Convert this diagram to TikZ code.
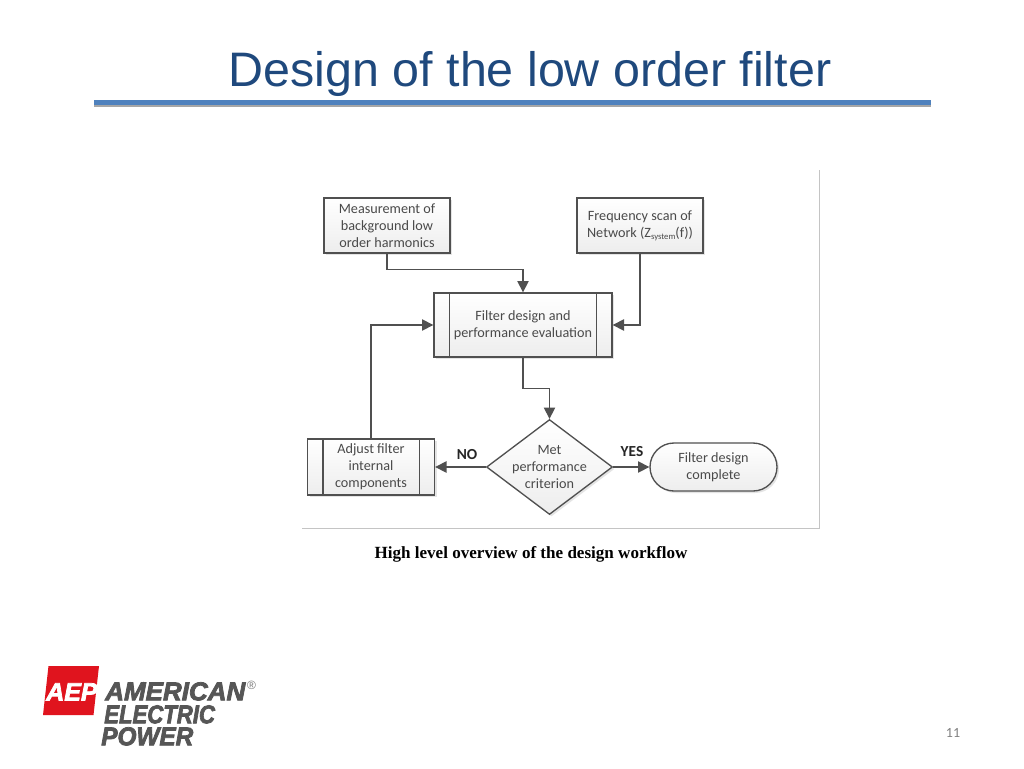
\documentclass[tikz,border=0pt]{standalone}
\usepackage{fontspec}
\usepackage{graphicx}
\usetikzlibrary{shapes.geometric,shapes.misc,shadows,arrows.meta}
\setmainfont{Liberation Sans}
\newfontfamily\flowfont{Carlito}
\newfontfamily\capfont{Liberation Serif}
\newfontfamily\logofont{Liberation Sans}[FakeBold=3]
\definecolor{titleblue}{HTML}{1F497D}
\definecolor{ruleblue}{HTML}{4F81BD}
\definecolor{flowline}{HTML}{505050}
\definecolor{flowtext}{HTML}{4A4A4A}
\definecolor{framegray}{HTML}{C4C4C4}
\definecolor{logored}{HTML}{E0141E}
\definecolor{logogray}{HTML}{565656}
\def\pxu{0.75pt}
\tikzset{
  flowshape/.style={draw=flowline, line width=1pt, top color=white, bottom color=black!7,
    text=flowtext, align=center, inner sep=0pt, font=\flowfont\fontsize{10.65pt}{12.8pt}\selectfont,
    drop shadow={shadow xshift=1.5pt, shadow yshift=-1.5pt, fill=black!35, opacity=0.3}},
  procbox/.style={flowshape, rectangle, minimum width=#1*\pxu},
  flowarrow/.style={draw=flowline, line width=1pt, -{Triangle[length=8.5pt,width=8.5pt]}},
  innerline/.style={draw=flowline, line width=1pt},
  framerule/.style={draw=framegray, line width=0.7pt},
  decision/.style={font=\flowfont\bfseries\fontsize{11.5pt}{13pt}\selectfont, text=black!85, inner sep=0pt},
  logotext/.style={inner sep=0pt, anchor=north west, text=logogray, font=\logofont\bfseries\itshape}
}
\begin{document}
\begin{tikzpicture}[x=0.75pt,y=-0.75pt]
\useasboundingbox (0,0) rectangle (1024,768);
\fill[white] (0,0) rectangle (1024,768);
% title
\node[inner sep=0pt, text=titleblue, font=\fontsize{36.3pt}{40pt}\selectfont] (title) at (530,74) {Design of the low order filter};
\fill[black!35] (94,102) rectangle (931,107);
\fill[ruleblue] (94,100) rectangle (931,105);
% picture frame
\coordinate (fr1) at (819,170);
\coordinate (fr2) at (819,528);
\coordinate (fr3) at (302,528);
\draw[framerule] (fr1) -- (fr2) -- (fr3);
% nodes
\node[procbox=126, minimum height=55*\pxu] (meas) at (387,225.5) {Measurement of\\background low\\order harmonics};
\node[procbox=126, minimum height=55*\pxu] (freq) at (640,225.5) {Frequency scan of\\Network (Z{\fontsize{6.5pt}{7pt}\selectfont\smash{\raisebox{-1.5pt}{system}}}(f))};
\node[procbox=178, minimum height=64*\pxu] (filt) at (523,325) {Filter design and\\performance evaluation};
\node[procbox=127, minimum height=56*\pxu] (adj) at (371,467) {Adjust filter\\internal\\components};
\node[flowshape, diamond, shape aspect=1.32, inner sep=-1.6pt, minimum width=126*\pxu, minimum height=95*\pxu] (dia) at (549.5,467) {Met\\performance\\criterion};
\node[flowshape, rounded rectangle, minimum width=127*\pxu, minimum height=48*\pxu] (done) at (713.5,467) {Filter design\\complete};
% subprocess bars
\draw[innerline] ([xshift=16*\pxu]filt.north west) -- ([xshift=16*\pxu]filt.south west);
\draw[innerline] ([xshift=-16*\pxu]filt.north east) -- ([xshift=-16*\pxu]filt.south east);
\draw[innerline] ([xshift=16*\pxu]adj.north west) -- ([xshift=16*\pxu]adj.south west);
\draw[innerline] ([xshift=-16*\pxu]adj.north east) -- ([xshift=-16*\pxu]adj.south east);
% connectors
\draw[flowarrow] (meas.south) -- ++(0,16) -| (filt.north);
\draw[flowarrow] (freq.south) |- (filt.east);
\draw[flowarrow] (adj.north) |- (filt.west);
\draw[flowarrow] (filt.south) -- ++(0,31) -| (dia.north);
\draw[flowarrow] (dia.west) -- (adj.east);
\draw[flowarrow] (dia.east) -- (done.west);
% connector labels
\node[decision] (nolabel) at (467,455) {NO};
\node[decision] (yeslabel) at (632,452) {YES};
% caption
\node[inner sep=0pt, text=black, font=\capfont\bfseries\fontsize{12.8pt}{15pt}\selectfont] (caption) at (531,554) {High level overview of the design workflow};
% logo
\fill[logored] (48.5,666) -- (99,666) -- (93.5,715) -- (43,715) -- cycle;
\node[inner sep=0pt, anchor=north west, text=white, font=\logofont\bfseries\itshape] (aep) at (46,683) {\resizebox{38.5pt}{13pt}{AEP}};
\node[logotext] (l1) at (105,682) {\resizebox{105pt}{13.5pt}{AMERICAN}};
\node[logotext] (l2) at (104,705) {\resizebox{83pt}{13.5pt}{ELECTRIC}};
\node[logotext] (l3) at (101,727) {\resizebox{69pt}{13.5pt}{POWER}};
\node[inner sep=0pt, text=logogray!80, font=\fontsize{9pt}{10pt}\selectfont] (reg) at (251.5,685) {®};
% page number
\node[inner sep=0pt, text=black!50, font=\flowfont\fontsize{10.5pt}{12pt}\selectfont] (pageno) at (953,733) {11};
\end{tikzpicture}
\end{document}
